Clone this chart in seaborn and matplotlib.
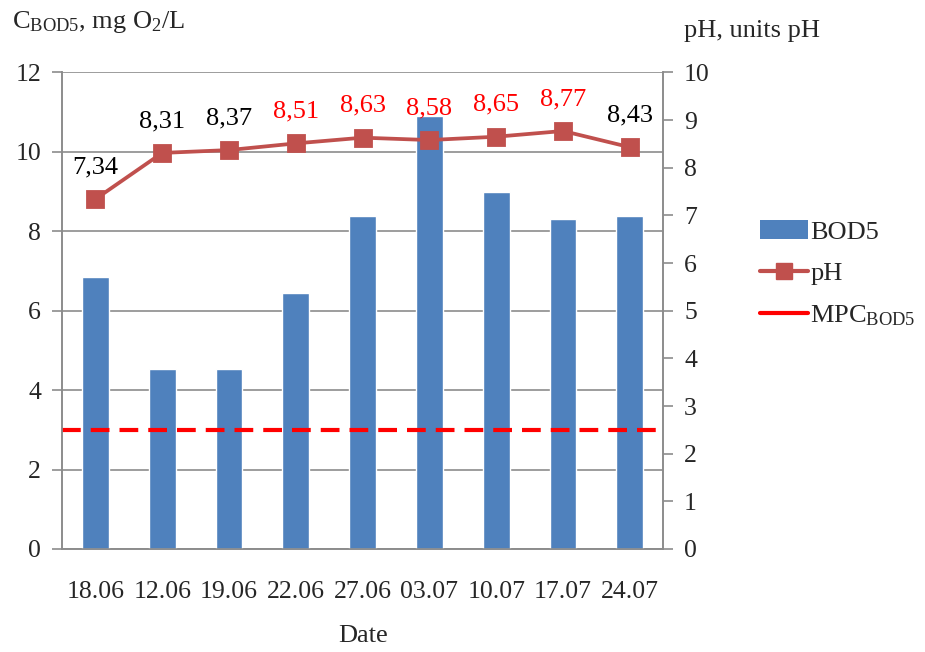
import matplotlib
matplotlib.use("Agg")
import matplotlib.pyplot as plt
from matplotlib.lines import Line2D
from matplotlib.patches import Patch
import seaborn as sns
import pandas as pd

# Sampling dates and measurements
dates = ["18.06", "12.06", "19.06", "22.06", "27.06", "03.07", "10.07", "17.07", "24.07"]
bod5 = [6.84, 4.53, 4.53, 6.44, 8.38, 10.89, 8.98, 8.30, 8.38]
ph = [7.34, 8.31, 8.37, 8.51, 8.63, 8.58, 8.65, 8.77, 8.43]
ph_label_colors = ["black", "black", "black", "red", "red", "red", "red", "red", "black"]
mpc_bod5 = 3.0

df = pd.DataFrame({"Date": dates, "BOD5": bod5, "pH": ph})

sns.set_theme(style="white")
plt.rcParams["font.family"] = ["Liberation Serif", "DejaVu Serif"]
plt.rcParams["mathtext.fontset"] = "custom"
plt.rcParams["mathtext.rm"] = "Liberation Serif"
plt.rcParams["mathtext.it"] = "Liberation Serif:italic"

bar_color = "#4F81BD"
line_color = "#C0504D"
grid_color = "#8C8C8C"
fs = 19
fs_tick = 18.5

fig = plt.figure(figsize=(9.25, 6.52), dpi=100)
ax = fig.add_axes([0.067, 0.158, 0.650, 0.731])

sns.barplot(data=df, x="Date", y="BOD5", color=bar_color, width=0.4,
            saturation=1, ax=ax, zorder=3)
ax.axhline(mpc_bod5, color="red", lw=3, dashes=(4.5, 2.4), zorder=4)

ax.set_ylim(0, 12)
ax.set_yticks(range(0, 13, 2))
ax.set_xlim(-0.5, len(dates) - 0.5)
ax.yaxis.grid(True, color=grid_color, lw=1.2)
ax.set_axisbelow(True)
ax.set_ylabel("")
ax.set_xlabel("Date", fontsize=fs, labelpad=16)

ax2 = ax.twinx()
sns.pointplot(data=df, x="Date", y="pH", color=line_color, markers="s",
              linestyles="-", ax=ax2, markersize=11, linewidth=2.7, zorder=5)
ax2.set_ylim(0, 10)
ax2.set_yticks(range(0, 11))
ax2.set_xlim(-0.5, len(dates) - 0.5)
ax2.set_ylabel("")
ax2.set_xlabel("")

for i, (v, c) in enumerate(zip(ph, ph_label_colors)):
    ax2.annotate(f"{v:.2f}".replace(".", ","), (i, v), xytext=(0, 15),
                 textcoords="offset points", ha="center", va="bottom",
                 fontsize=fs, color=c)

# Spines and ticks
for a in (ax, ax2):
    for s in a.spines.values():
        s.set_color(grid_color)
        s.set_linewidth(1.2)
    a.spines["top"].set_visible(False)

ax.set_xticks([i - 0.5 for i in range(len(dates) + 1)], minor=True)
ax.tick_params(axis="x", which="major", length=0, labelsize=fs_tick, pad=23)
ax.tick_params(axis="x", which="minor", length=7, color=grid_color, width=1.2)
ax.tick_params(axis="y", length=7, color=grid_color, width=1.2, labelsize=fs_tick, pad=8)
ax2.tick_params(axis="y", length=7, color=grid_color, width=1.2, labelsize=fs_tick, pad=8)
ax2.tick_params(axis="x", length=0)

fig.text(0.013, 0.966, r"C$_{\mathrm{BOD5}}$, mg O$_2$/L", fontsize=fs, ha="left", va="center")
fig.text(0.740, 0.953, "pH, units pH", fontsize=fs, ha="left", va="center")

handles = [
    Patch(facecolor=bar_color, edgecolor="none"),
    Line2D([], [], color=line_color, lw=3, marker="s", markersize=12),
    Line2D([], [], color="red", lw=3),
]
labels = ["BOD5", "pH", r"MPC$_{\mathrm{BOD5}}$"]
fig.legend(handles, labels, loc="center left", bbox_to_anchor=(0.796, 0.58),
           frameon=False, fontsize=fs, handlelength=1.8, labelspacing=0.68,
           handletextpad=0.1)

fig.savefig("out.png", dpi=100, facecolor="white")
